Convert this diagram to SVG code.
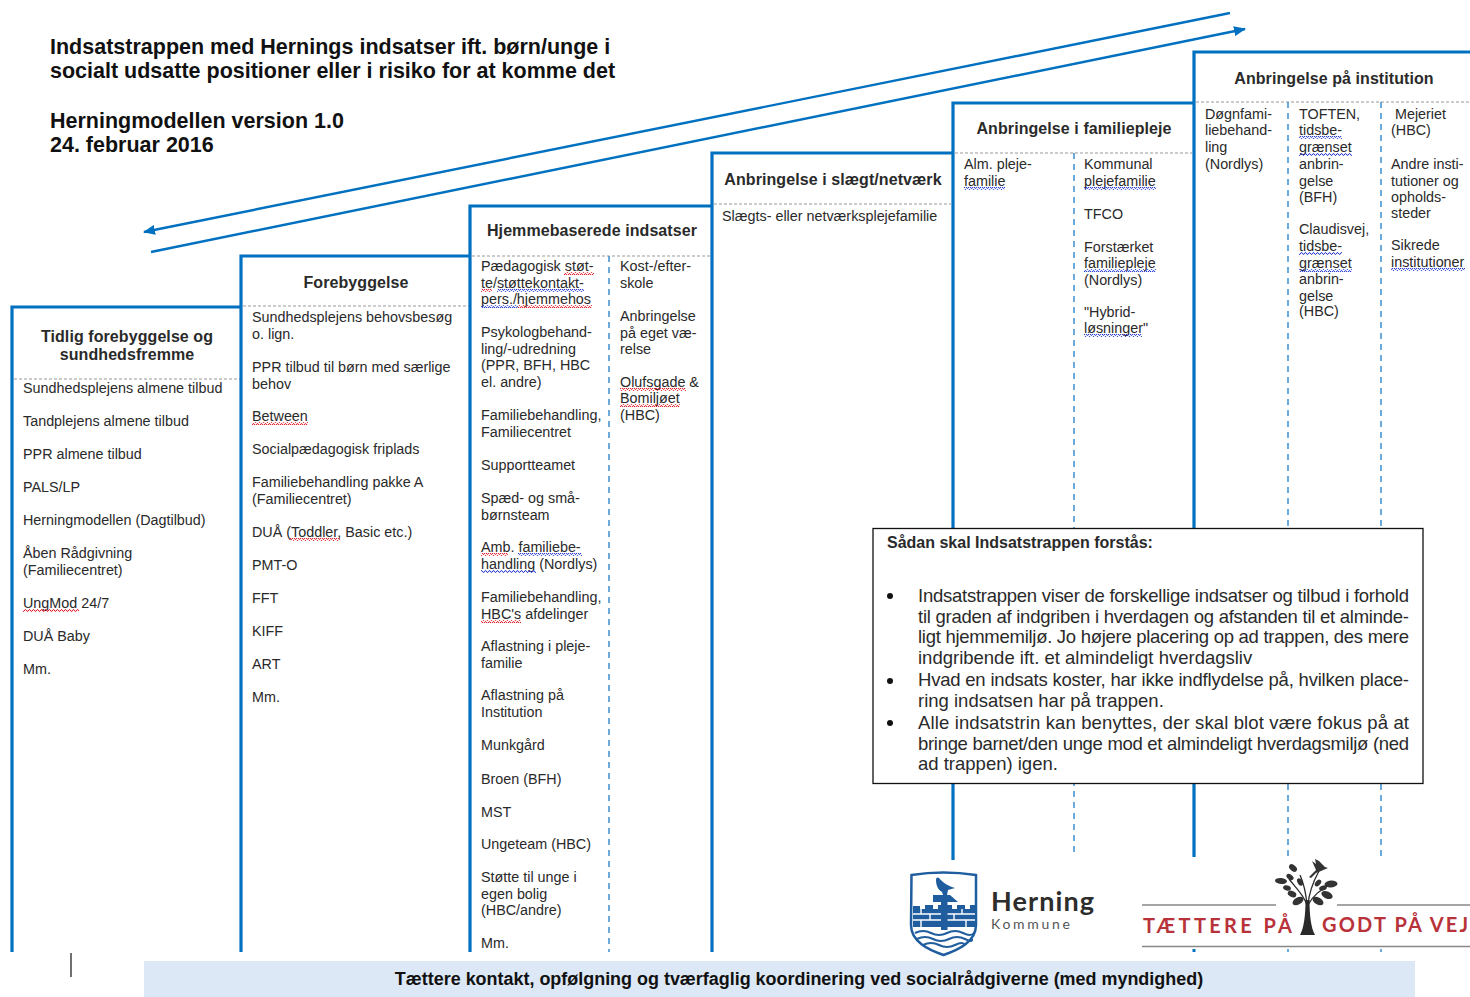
<svg xmlns="http://www.w3.org/2000/svg" width="1470" height="997" viewBox="0 0 1470 997">
<style>
text{font-family:"Liberation Sans",Arial,sans-serif;fill:#2a2a2a}
.t{font-size:14.35px}
.h{font-size:16px;font-weight:700;text-anchor:middle;letter-spacing:.08px}
.ti{font-size:21.5px;font-weight:700;fill:#111}
.b{font-size:18.5px;fill:#333}
.st{fill:none;stroke:#0070C0;stroke-width:3.2}
.gd{fill:none;stroke:#999;stroke-width:1;stroke-dasharray:3 2}
.bd{fill:none;stroke:#3c8fd0;stroke-width:1.5;stroke-dasharray:6 5}
.arr{fill:none;stroke:#0070C0;stroke-width:2.4}
.lg{font-family:Lato,"Liberation Sans",sans-serif}
.sr{fill:url(#sr)}
.sb{fill:url(#sb)}
</style>
<defs>
<pattern id="sr" width="4" height="3" patternUnits="userSpaceOnUse"><path d="M0 2.300L1 .7L2 .7L3 2.300L4 2.300" fill="none" stroke="#e0202a" stroke-width="1"/></pattern>
<pattern id="sb" width="4" height="3" patternUnits="userSpaceOnUse"><path d="M0 2.300L1 .7L2 .7L3 2.300L4 2.300" fill="none" stroke="#2a3fd0" stroke-width="1"/></pattern>
<marker id="ah" markerUnits="userSpaceOnUse" markerWidth="12" markerHeight="10" refX="11" refY="5" orient="auto"><path d="M0 0L12 5L0 10z" fill="#0070C0"/></marker>
</defs>
<g id="title">
<text class="ti" x="50" y="54">Indsatstrappen med Hernings indsatser ift. børn/unge i</text>
<text class="ti" x="50" y="78">socialt udsatte positioner eller i risiko for at komme det</text>
<text class="ti" x="50" y="128">Herningmodellen version 1.0</text>
<text class="ti" x="50" y="152">24. februar 2016</text>
</g>
<g id="connectors">
<path class="arr" d="M1230 13L144 232" marker-end="url(#ah)"/>
<path class="arr" d="M151 252L1245 29" marker-end="url(#ah)"/>
</g>
<g id="step1">
<path class="st" d="M12 952V307H241"/><path class="gd" d="M14 379H240"/>
<text class="h" x="127" y="342">Tidlig forebyggelse og</text><text class="h" x="127" y="360">sundhedsfremme</text>
<g class="t"><text x="23" y="393">Sundhedsplejens almene tilbud</text><text x="23" y="426">Tandplejens almene tilbud</text><text x="23" y="459">PPR almene tilbud</text><text x="23" y="492">PALS/LP</text><text x="23" y="525">Herningmodellen (Dagtilbud)</text><text x="23" y="558">Åben Rådgivning</text><text x="23" y="575">(Familiecentret)</text><text x="23" y="608">UngMod 24/7</text><text x="23" y="641">DUÅ Baby</text><text x="23" y="674">Mm.</text></g>
<rect class="sr" x="23" y="609" width="56" height="3"/>
</g>
<g id="step2">
<path class="st" d="M241 952V256H470"/><path class="gd" d="M243 306H469"/>
<text class="h" x="356" y="288">Forebyggelse</text>
<g class="t"><text x="252" y="322">Sundhedsplejens behovsbesøg</text><text x="252" y="339">o. lign.</text><text x="252" y="372">PPR tilbud til børn med særlige</text><text x="252" y="389">behov</text><text x="252" y="421">Between</text><text x="252" y="454">Socialpædagogisk friplads</text><text x="252" y="487">Familiebehandling pakke A</text><text x="252" y="504">(Familiecentret)</text><text x="252" y="537">DUÅ (Toddler, Basic etc.)</text><text x="252" y="570">PMT-O</text><text x="252" y="603">FFT</text><text x="252" y="636">KIFF</text><text x="252" y="669">ART</text><text x="252" y="702">Mm.</text></g>
<rect class="sr" x="252" y="422" width="56" height="3"/><rect class="sr" x="290" y="538" width="50" height="3"/>
</g>
<g id="step3">
<path class="st" d="M470 952V206H712"/><path class="gd" d="M472 256H710"/><path class="bd" d="M609 256V952"/>
<text class="h" x="592" y="236">Hjemmebaserede indsatser</text>
<g class="t"><text x="481" y="271">Pædagogisk støt-</text><text x="481" y="288">te/støttekontakt-</text><text x="481" y="304">pers./hjemmehos</text><text x="481" y="337">Psykologbehand-</text><text x="481" y="354">ling/-udredning</text><text x="481" y="370">(PPR, BFH, HBC</text><text x="481" y="387">el. andre)</text><text x="481" y="420">Familiebehandling,</text><text x="481" y="437">Familiecentret</text><text x="481" y="470">Supportteamet</text><text x="481" y="503">Spæd- og små-</text><text x="481" y="520">børnsteam</text><text x="481" y="552">Amb. familiebe-</text><text x="481" y="569">handling (Nordlys)</text><text x="481" y="602">Familiebehandling,</text><text x="481" y="619">HBC's afdelinger</text><text x="481" y="651">Aflastning i pleje-</text><text x="481" y="668">familie</text><text x="481" y="700">Aflastning på</text><text x="481" y="717">Institution</text><text x="481" y="750">Munkgård</text><text x="481" y="784">Broen (BFH)</text><text x="481" y="817">MST</text><text x="481" y="849">Ungeteam (HBC)</text><text x="481" y="882">Støtte til unge i</text><text x="481" y="899">egen bolig</text><text x="481" y="915">(HBC/andre)</text><text x="481" y="948">Mm.</text>
<text x="620" y="271">Kost-/efter-</text><text x="620" y="288">skole</text><text x="620" y="321">Anbringelse</text><text x="620" y="338">på eget væ-</text><text x="620" y="354">relse</text><text x="620" y="387">Olufsgade &amp;</text><text x="620" y="403">Bomiljøet</text><text x="620" y="420">(HBC)</text></g>
<rect class="sr" x="564" y="272" width="30" height="3"/><rect class="sr" x="481" y="289" width="11" height="3"/><rect class="sb" x="497" y="289" width="87" height="3"/><rect class="sb" x="481" y="305" width="37" height="3"/><rect class="sr" x="518" y="305" width="74" height="3"/><rect class="sr" x="481" y="553" width="27" height="3"/><rect class="sb" x="518" y="553" width="64" height="3"/><rect class="sb" x="481" y="570" width="55" height="3"/><rect class="sr" x="481" y="620" width="40" height="3"/><rect class="sr" x="620" y="388" width="66" height="3"/><rect class="sr" x="620" y="404" width="60" height="3"/>
</g>
<g id="step4">
<path class="st" d="M712 952V153H953"/><path class="gd" d="M714 204H951"/>
<text class="h" x="833" y="185">Anbringelse i slægt/netværk</text>
<text class="t" x="722" y="221">Slægts- eller netværksplejefamilie</text>
</g>
<g id="step5">
<path class="st" d="M953 860V103H1194"/><path class="gd" d="M955 153H1192"/><path class="bd" d="M1074 153V857"/>
<text class="h" x="1074" y="134">Anbringelse i familiepleje</text>
<g class="t"><text x="964" y="169">Alm. pleje-</text><text x="964" y="186">familie</text><text x="1084" y="169">Kommunal</text><text x="1084" y="186">plejefamilie</text><text x="1084" y="219">TFCO</text><text x="1084" y="252">Forstærket</text><text x="1084" y="268">familiepleje</text><text x="1084" y="285">(Nordlys)</text><text x="1084" y="317">"Hybrid-</text><text x="1084" y="333">løsninger"</text></g>
<rect class="sb" x="964" y="187" width="41" height="3"/><rect class="sb" x="1084" y="187" width="72" height="3"/><rect class="sb" x="1084" y="269" width="72" height="3"/><rect class="sb" x="1084" y="334" width="58" height="3"/>
</g>
<g id="step6">
<path class="st" d="M1194 857V52H1470"/><path class="gd" d="M1196 102H1470"/><path class="bd" d="M1288 102V857"/><path class="bd" d="M1381 102V857"/>
<text class="h" x="1334" y="84">Anbringelse på institution</text>
<g class="t"><text x="1205" y="119">Døgnfami-</text><text x="1205" y="135">liebehand-</text><text x="1205" y="152">ling</text><text x="1205" y="169">(Nordlys)</text>
<text x="1299" y="119">TOFTEN,</text><text x="1299" y="135">tidsbe-</text><text x="1299" y="152">grænset</text><text x="1299" y="169">anbrin-</text><text x="1299" y="186">gelse</text><text x="1299" y="202">(BFH)</text><text x="1299" y="234">Claudisvej,</text><text x="1299" y="251">tidsbe-</text><text x="1299" y="268">grænset</text><text x="1299" y="284">anbrin-</text><text x="1299" y="301">gelse</text><text x="1299" y="316">(HBC)</text>
<text x="1395" y="119">Mejeriet</text><text x="1391" y="135">(HBC)</text><text x="1391" y="169">Andre insti-</text><text x="1391" y="186">tutioner og</text><text x="1391" y="202">opholds-</text><text x="1391" y="218">steder</text><text x="1391" y="250">Sikrede</text><text x="1391" y="267">institutioner</text></g>
<rect class="sb" x="1299" y="136" width="43" height="3"/><rect class="sb" x="1299" y="153" width="53" height="3"/><rect class="sb" x="1299" y="252" width="43" height="3"/><rect class="sb" x="1299" y="269" width="53" height="3"/><rect class="sb" x="1391" y="268" width="74" height="3"/>
<path d="M1194 949V952" stroke="#0070C0" stroke-width="3"/><path class="bd" d="M1288 949V952M1381 949V952"/>
</g>
<g id="explain">
<rect x="873" y="528.500" width="550" height="255" fill="#fff" stroke="#111" stroke-width="1.300"/>
<text x="887" y="548" font-size="16" font-weight="700" fill="#222">Sådan skal Indsatstrappen forstås:</text>
<g fill="#111"><circle cx="890" cy="596" r="3"/><circle cx="890" cy="681" r="3"/><circle cx="890" cy="723" r="3"/></g>
<g class="b"><text x="918" y="602" textLength="491">Indsatstrappen viser de forskellige indsatser og tilbud i forhold</text><text x="918" y="623" textLength="491">til graden af indgriben i hverdagen og afstanden til et alminde-</text><text x="918" y="643" textLength="491">ligt hjemmemiljø. Jo højere placering op ad trappen, des mere</text><text x="918" y="664">indgribende ift. et almindeligt hverdagsliv</text><text x="918" y="686" textLength="491">Hvad en indsats koster, har ikke indflydelse på, hvilken place-</text><text x="918" y="707">ring indsatsen har på trappen.</text><text x="918" y="729" textLength="491">Alle indsatstrin kan benyttes, der skal blot være fokus på at</text><text x="918" y="750" textLength="491">bringe barnet/den unge mod et almindeligt hverdagsmiljø (ned</text><text x="918" y="770">ad trappen) igen.</text></g>
</g>
<g id="logo-herning">
<path d="M911.500 875Q943 870 976 875V925C976 942 958 950 943.500 955C929 950 911 942 911 925Z" fill="#fff" stroke="#1f5d9e" stroke-width="2.500"/>
<path d="M913 927V906h7v3h5v-4h8v4h5v-4h14v4h5v-4h8v4h5v-4h5v22Z" fill="#1f5d9e"/>
<path d="M913 914H975M913 920H975M921 909V914M930 914V920M921 920V927M962 909V914M954 914V920M966 920V927" stroke="#fff" stroke-width="1.400" fill="none"/>
<rect x="941" y="900" width="6.500" height="30" fill="#1f5d9e"/><path d="M933 895H950L958 902H933Z" fill="#1f5d9e"/>
<path d="M936 880C936 877 938 877 939 878C944 884 949 886 955 888L948 890L947 895H943L942 892C938 890 936 885 936 880Z" fill="#1f5d9e"/>
<path d="M915 933Q923 929 931 933T947 933T963 933T974 933M917 939Q925 935 933 939T949 939T965 939T972 939M923 945Q931 941 939 945T955 945T965 945" fill="none" stroke="#1f5d9e" stroke-width="2"/>
<text class="lg" x="991" y="911" font-size="27" font-weight="700" style="fill:#2d2d2d" textLength="103">Herning</text>
<text class="lg" x="991" y="929" font-size="14" style="fill:#555" textLength="79">Kommune</text>
</g>
<g id="logo-taettere">
<path d="M1142 905H1276M1337 905H1470M1142 946.500H1470" stroke="#888" stroke-width="1.600" fill="none"/>
<text class="lg" x="1143" y="933" font-size="20" font-weight="700" style="fill:#b8323a" textLength="149">TÆTTERE PÅ</text>
<text class="lg" x="1322" y="932" font-size="20" font-weight="700" style="fill:#b8323a" textLength="146">GODT PÅ VEJ</text>
<path d="M1300 935C1304 928 1305.500 915 1305.500 900H1309.500C1309.500 915 1311 928 1315 935Z" fill="#2a2a2a"/>
<path d="M1307 905C1304 895 1296 888 1289 879M1307 905C1306 893 1304 884 1300 875M1308 905C1309 892 1313 882 1319 871M1308 905C1313 895 1321 890 1329 885" fill="none" stroke="#2a2a2a" stroke-width="1.300"/>
<g fill="#333"><ellipse cx="1293" cy="868" rx="4.500" ry="3" transform="rotate(40 1293 868)"/><ellipse cx="1290" cy="877" rx="4" ry="2.500" transform="rotate(35 1290 877)"/><ellipse cx="1281" cy="881" rx="6" ry="3" transform="rotate(5 1281 881)"/><ellipse cx="1287" cy="888" rx="4" ry="2.500" transform="rotate(15 1287 888)"/><ellipse cx="1292" cy="894" rx="4.500" ry="3" transform="rotate(25 1292 894)"/><ellipse cx="1298" cy="901" rx="6" ry="3.500" transform="rotate(-30 1298 901)"/><ellipse cx="1300" cy="882" rx="4" ry="2.500" transform="rotate(60 1300 882)"/><ellipse cx="1318" cy="883" rx="4" ry="2.500" transform="rotate(-50 1318 883)"/><ellipse cx="1331" cy="884" rx="6.500" ry="3.500" transform="rotate(-5 1331 884)"/><ellipse cx="1323" cy="888" rx="4" ry="2.500" transform="rotate(-20 1323 888)"/><ellipse cx="1327" cy="895" rx="6" ry="3.500" transform="rotate(25 1327 895)"/><ellipse cx="1318" cy="901" rx="6" ry="3.500" transform="rotate(30 1318 901)"/><path d="M1309 877L1316 870L1312 861L1316 864L1315 859L1319 861L1325 867L1328 868L1321 871L1316 873L1311 878Z"/></g>
</g>
<g id="bar">
<rect x="144" y="961" width="1271" height="36" fill="#DCE8F5"/>
<text x="799" y="985" font-size="17.950" font-weight="700" text-anchor="middle" style="fill:#111">Tættere kontakt, opfølgning og tværfaglig koordinering ved socialrådgiverne (med myndighed)</text>
</g>
<path d="M71 953V977" stroke="#111" stroke-width="1.200"/>
</svg>
